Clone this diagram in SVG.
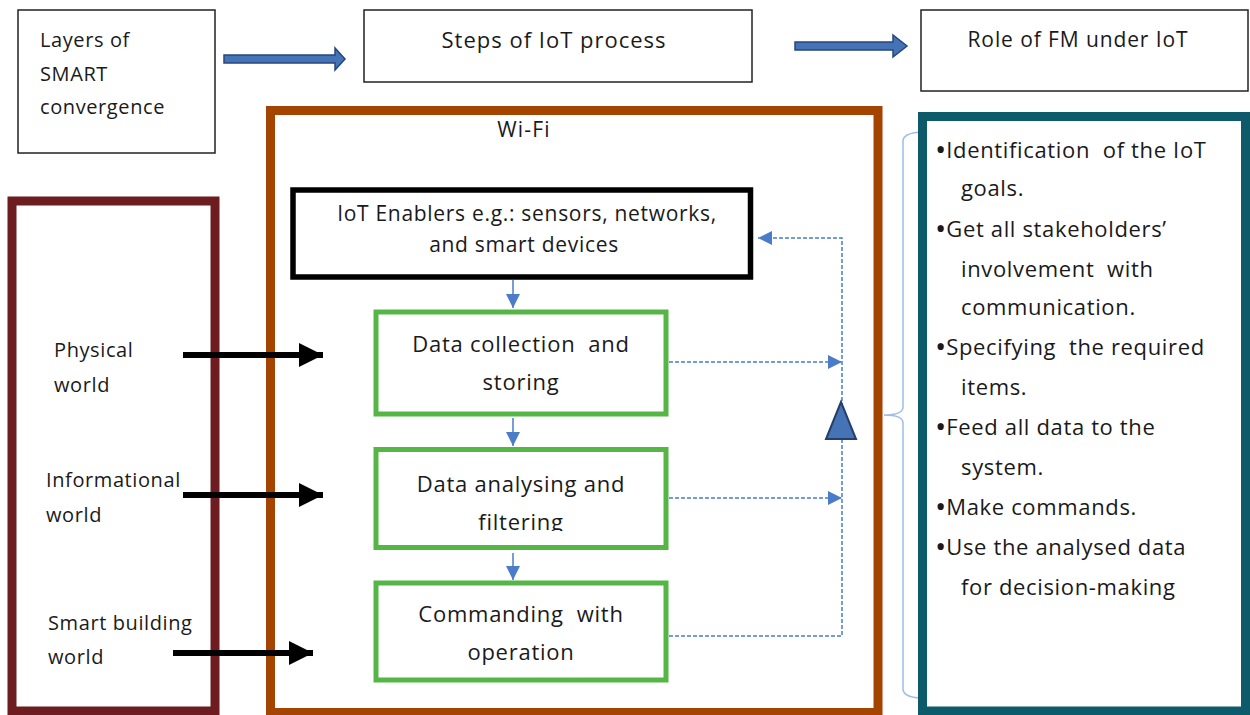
<svg xmlns="http://www.w3.org/2000/svg" width="1250" height="715" viewBox="0 0 1250 715">
<style>
text{font-family:"Open Sans","Noto Sans","Liberation Sans",sans-serif;fill:#1a1a1a;white-space:pre}
.hdr{fill:#fff;stroke:#222;stroke-width:1.5}
.green{fill:#fff;stroke:#55b545;stroke-width:5}
.gt{font-size:22px;letter-spacing:0.75px}
.lt{font-size:22px;letter-spacing:0.65px}
.bul{font-size:30px;letter-spacing:0}
.lab{font-size:20px;letter-spacing:0.6px}
.en{font-size:21px;letter-spacing:0.7px}
.mid{text-anchor:middle}
.dash{fill:none;stroke:#4a7cc7;stroke-width:1.5;stroke-dasharray:4 2}
.solidblue{fill:none;stroke:#4a7cc7;stroke-width:1.5}
.blk{fill:none;stroke:#000;stroke-width:6}
.bigarrow{fill:#4673b5;stroke:#24477d;stroke-width:1.5}
</style>
<defs>
<marker id="bhl" viewBox="0 0 10 10" refX="10" refY="5" markerWidth="16" markerHeight="14" markerUnits="userSpaceOnUse" orient="auto"><path d="M0,0 L10,5 L0,10 Z" fill="#4a7cc7"/></marker>
<marker id="kh" viewBox="0 0 10 10" refX="10" refY="5" markerWidth="24" markerHeight="24" markerUnits="userSpaceOnUse" orient="auto"><path d="M0,0 L10,5 L0,10 Z" fill="#000"/></marker>
<clipPath id="clip2"><rect x="380" y="452" width="280" height="79"/></clipPath>
</defs>

<g id="layers-box">
<rect class="hdr" x="18" y="10" width="197" height="143"/>
<text class="lab" x="40" y="47">Layers of</text>
<text class="lab" x="40" y="81">SMART</text>
<text class="lab" x="40" y="114">convergence</text>
</g>

<g id="steps-box">
<rect class="hdr" x="364" y="10" width="388" height="72"/>
<text class="mid" font-size="22" letter-spacing="1" x="554" y="48">Steps of IoT process</text>
</g>

<g id="role-box">
<rect class="hdr" x="921" y="10" width="327" height="81"/>
<text class="mid" font-size="21" letter-spacing="0.9" x="1078" y="47">Role of FM under IoT</text>
</g>

<g id="top-arrows">
<path class="bigarrow" d="M224,55 L335,55 L335,48 L345,59 L335,70 L335,63 L224,63 Z"/>
<path class="bigarrow" d="M795,42 L893,42 L893,35 L907,46 L893,57 L893,50 L795,50 Z"/>
</g>

<g id="worlds-box">
<rect x="12" y="201" width="203" height="510" fill="none" stroke="#6d1d1f" stroke-width="9"/>
<text class="lab" x="54" y="357">Physical</text>
<text class="lab" x="54" y="392">world</text>
<text class="lab" x="46" y="487">Informational</text>
<text class="lab" x="46" y="522">world</text>
<text class="lab" x="48" y="630">Smart building</text>
<text class="lab" x="48" y="664">world</text>
</g>

<g id="wifi-box">
<rect x="270.5" y="110.5" width="607.5" height="602" fill="none" stroke="#a54300" stroke-width="9"/>
<text class="mid" font-size="21" letter-spacing="1.2" x="524" y="137">Wi-Fi</text>
</g>

<g id="enablers">
<rect x="293" y="190" width="457.5" height="87" fill="#fff" stroke="#000" stroke-width="5.5"/>
<text class="en mid" x="527" y="221">IoT Enablers e.g.: sensors, networks,</text>
<text class="en mid" x="524" y="252">and smart devices</text>
</g>

<g id="collection">
<rect class="green" x="376" y="312" width="290" height="102"/>
<text class="gt mid" x="521" y="352">Data collection  and</text>
<text class="gt mid" x="521" y="390">storing</text>
</g>

<g id="analysing">
<rect class="green" x="376" y="449.5" width="290" height="98"/>
<g clip-path="url(#clip2)">
<text class="gt mid" x="521" y="492">Data analysing and</text>
<text class="gt mid" x="521" y="530">filtering</text>
</g>
</g>

<g id="commanding">
<rect class="green" x="376" y="583" width="290" height="97"/>
<text class="gt mid" x="521" y="622">Commanding  with</text>
<text class="gt mid" x="521" y="660">operation</text>
</g>

<g id="role-list">
<path d="M925,132 Q905,132 903,140 L903,407 Q903,415 884,415 Q903,415 903,423 L903,690 Q905,698 923,698" fill="none" stroke="#9dbde6" stroke-width="1.5"/>
<rect x="922.5" y="116.5" width="323" height="594.5" fill="#fff" stroke="#0d5b6a" stroke-width="9"/>
<g class="lt">
<text x="935" y="158"><tspan class="bul" dy="2">•</tspan><tspan dy="-2">Identification  of the IoT</tspan></text>
<text x="961" y="196">goals.</text>
<text x="935" y="237"><tspan class="bul" dy="2">•</tspan><tspan dy="-2">Get all stakeholders’</tspan></text>
<text x="961" y="277">involvement  with</text>
<text x="961" y="315">communication.</text>
<text x="935" y="355"><tspan class="bul" dy="2">•</tspan><tspan dy="-2">Specifying  the required</tspan></text>
<text x="961" y="395">items.</text>
<text x="935" y="435"><tspan class="bul" dy="2">•</tspan><tspan dy="-2">Feed all data to the</tspan></text>
<text x="961" y="475">system.</text>
<text x="935" y="515"><tspan class="bul" dy="2">•</tspan><tspan dy="-2">Make commands.</tspan></text>
<text x="935" y="555"><tspan class="bul" dy="2">•</tspan><tspan dy="-2">Use the analysed data</tspan></text>
<text x="961" y="595">for decision-making</text>
</g>
</g>

<g id="connectors">
<line class="solidblue" x1="513" y1="280" x2="513" y2="308" marker-end="url(#bhl)"/>
<line class="solidblue" x1="513" y1="418" x2="513" y2="446" marker-end="url(#bhl)"/>
<line class="solidblue" x1="513" y1="553" x2="513" y2="580" marker-end="url(#bhl)"/>
<line class="dash" x1="669" y1="362" x2="842" y2="362" marker-end="url(#bhl)"/>
<line class="dash" x1="669" y1="498" x2="842" y2="498" marker-end="url(#bhl)"/>
<polyline class="dash" points="669,636 842,636 842,238 758,238" marker-end="url(#bhl)"/>
<polygon points="841,402 826,439 856,439" fill="#4673b5" stroke="#243f6b" stroke-width="2"/>
<line class="blk" x1="183" y1="355" x2="323" y2="355" marker-end="url(#kh)"/>
<line class="blk" x1="183" y1="495" x2="323" y2="495" marker-end="url(#kh)"/>
<line class="blk" x1="173" y1="653" x2="313" y2="653" marker-end="url(#kh)"/>
</g>
</svg>
